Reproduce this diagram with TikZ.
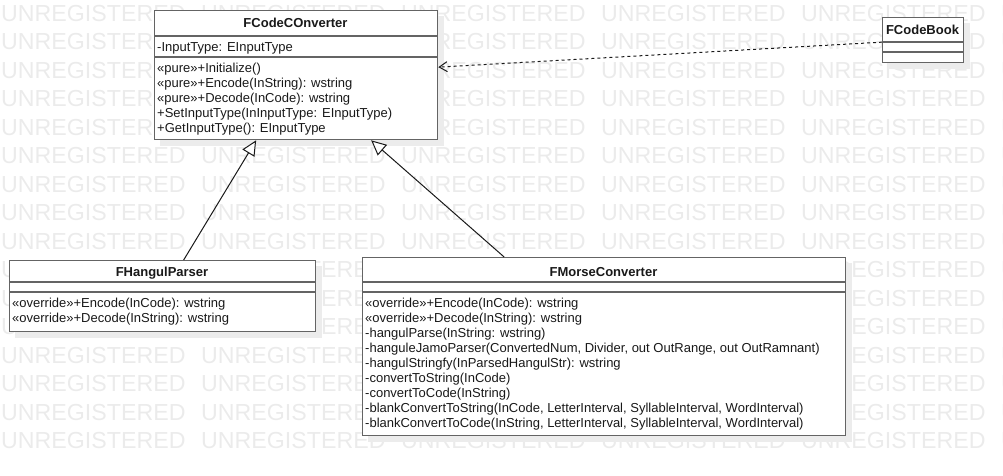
\documentclass[tikz,border=0pt]{standalone}
\usepackage{fontspec}
\setmainfont{Liberation Sans}
\usetikzlibrary{arrows.meta}
\definecolor{wmgray}{RGB}{235,235,235}
\definecolor{shadowc}{RGB}{236,236,236}
\definecolor{framegray}{RGB}{100,100,100}
\definecolor{inkc}{RGB}{25,25,25}
\pgfdeclarelayer{watermark}
\pgfdeclarelayer{shadowlayer}
\pgfsetlayers{watermark,shadowlayer,main}
\begin{document}
\begin{tikzpicture}[x=1pt,y=-1pt,
  classbox/.style={draw=framegray, fill=white, line width=1.3pt, anchor=north west, inner sep=0pt},
  sepline/.style={draw=framegray, line width=1.3pt},
  member/.style={anchor=base west, inner sep=0pt, text=inkc, font=\fontsize{13}{15}\selectfont},
  classname/.style={anchor=base, inner sep=0pt, text=inkc, font=\fontsize{13}{15}\selectfont\bfseries},
  wmtext/.style={anchor=base west, inner sep=0pt, text=wmgray, font=\fontsize{23.2}{28}\selectfont},
  generalize/.style={draw=inkc, line width=1pt, -{Triangle[open, fill=white, length=15pt, width=14pt]}},
  depend/.style={draw=inkc, line width=1pt, dash pattern=on 3pt off 3pt, -{Straight Barb[length=8pt, width=10pt]}}
]
\useasboundingbox (0,0) rectangle (1003,475);

% background watermark rows
\begin{pgfonlayer}{watermark}
\begin{scope}
  \clip (0,0) rectangle (1003,475);
  \foreach \r in {0,...,15}
    \foreach \c in {0,...,5}
      \node[wmtext] (wm-\r-\c) at (1+200*\c, 21.5+28.47*\r) {UNREGISTERED};
\end{scope}
\end{pgfonlayer}

% class frames
\node[classbox, minimum width=283pt, minimum height=129pt] (conv) at (154,10) {};
\node[classbox, minimum width=81pt, minimum height=45pt] (book) at (882,17) {};
\node[classbox, minimum width=306pt, minimum height=71pt] (hang) at (9,260) {};
\node[classbox, minimum width=483pt, minimum height=178pt] (morse) at (362,257) {};

% drop shadows
\begin{pgfonlayer}{shadowlayer}
  \foreach \b in {conv,book,hang,morse}
    \fill[shadowc] ([shift={(6,6)}]\b.north west) rectangle ([shift={(6,6)}]\b.south east);
\end{pgfonlayer}

% compartment separators
\draw[sepline] ([yshift=-26pt]conv.north west) -- ([yshift=-26pt]conv.north east);
\draw[sepline] ([yshift=-47pt]conv.north west) -- ([yshift=-47pt]conv.north east);
\draw[sepline] ([yshift=-25pt]book.north west) -- ([yshift=-25pt]book.north east);
\draw[sepline] ([yshift=-35pt]book.north west) -- ([yshift=-35pt]book.north east);
\draw[sepline] ([yshift=-22pt]hang.north west) -- ([yshift=-22pt]hang.north east);
\draw[sepline] ([yshift=-32pt]hang.north west) -- ([yshift=-32pt]hang.north east);
\draw[sepline] ([yshift=-25pt]morse.north west) -- ([yshift=-25pt]morse.north east);
\draw[sepline] ([yshift=-35pt]morse.north west) -- ([yshift=-35pt]morse.north east);

% FCodeCOnverter
\node[classname] (conv-t) at (295.5,27.5) {FCodeCOnverter};
\node[member] (conv-a1) at (157,51.5) {-InputType: EInputType};
\node[member] (conv-m1) at (157,72.5) {«pure»+Initialize()};
\node[member] (conv-m2) at (157,87.5) {«pure»+Encode(InString): wstring};
\node[member] (conv-m3) at (157,102.5) {«pure»+Decode(InCode): wstring};
\node[member] (conv-m4) at (157,117.5) {+SetInputType(InInputType: EInputType)};
\node[member] (conv-m5) at (157,132.5) {+GetInputType(): EInputType};

% FCodeBook
\node[classname] (book-t) at (922.5,34.5) {FCodeBook};

% FHangulParser
\node[classname] (hang-t) at (162,276.5) {FHangulParser};
\node[member] (hang-m1) at (12,307.5) {«override»+Encode(InCode): wstring};
\node[member] (hang-m2) at (12,322.5) {«override»+Decode(InString): wstring};

% FMorseConverter
\node[classname] (morse-t) at (603.5,276.5) {FMorseConverter};
\node[member] (morse-m1) at (365,307.5) {«override»+Encode(InCode): wstring};
\node[member] (morse-m2) at (365,322.5) {«override»+Decode(InString): wstring};
\node[member] (morse-m3) at (365,337.5) {-hangulParse(InString: wstring)};
\node[member] (morse-m4) at (365,352.5) {-hanguleJamoParser(ConvertedNum, Divider, out OutRange, out OutRamnant)};
\node[member] (morse-m5) at (365,367.5) {-hangulStringfy(InParsedHangulStr): wstring};
\node[member] (morse-m6) at (365,382.5) {-convertToString(InCode)};
\node[member] (morse-m7) at (365,397.5) {-convertToCode(InString)};
\node[member] (morse-m8) at (365,412.5) {-blankConvertToString(InCode, LetterInterval, SyllableInterval, WordInterval)};
\node[member] (morse-m9) at (365,427.5) {-blankConvertToCode(InString, LetterInterval, SyllableInterval, WordInterval)};

% relations
\draw[generalize] ([xshift=21pt]hang.north) -- ([xshift=-40pt]conv.south);
\draw[generalize] ([xshift=-100pt]morse.north) -- ([xshift=75pt]conv.south);
\draw[depend] ([yshift=-2pt]book.west) -- ([yshift=8pt]conv.east);
\end{tikzpicture}
\end{document}
